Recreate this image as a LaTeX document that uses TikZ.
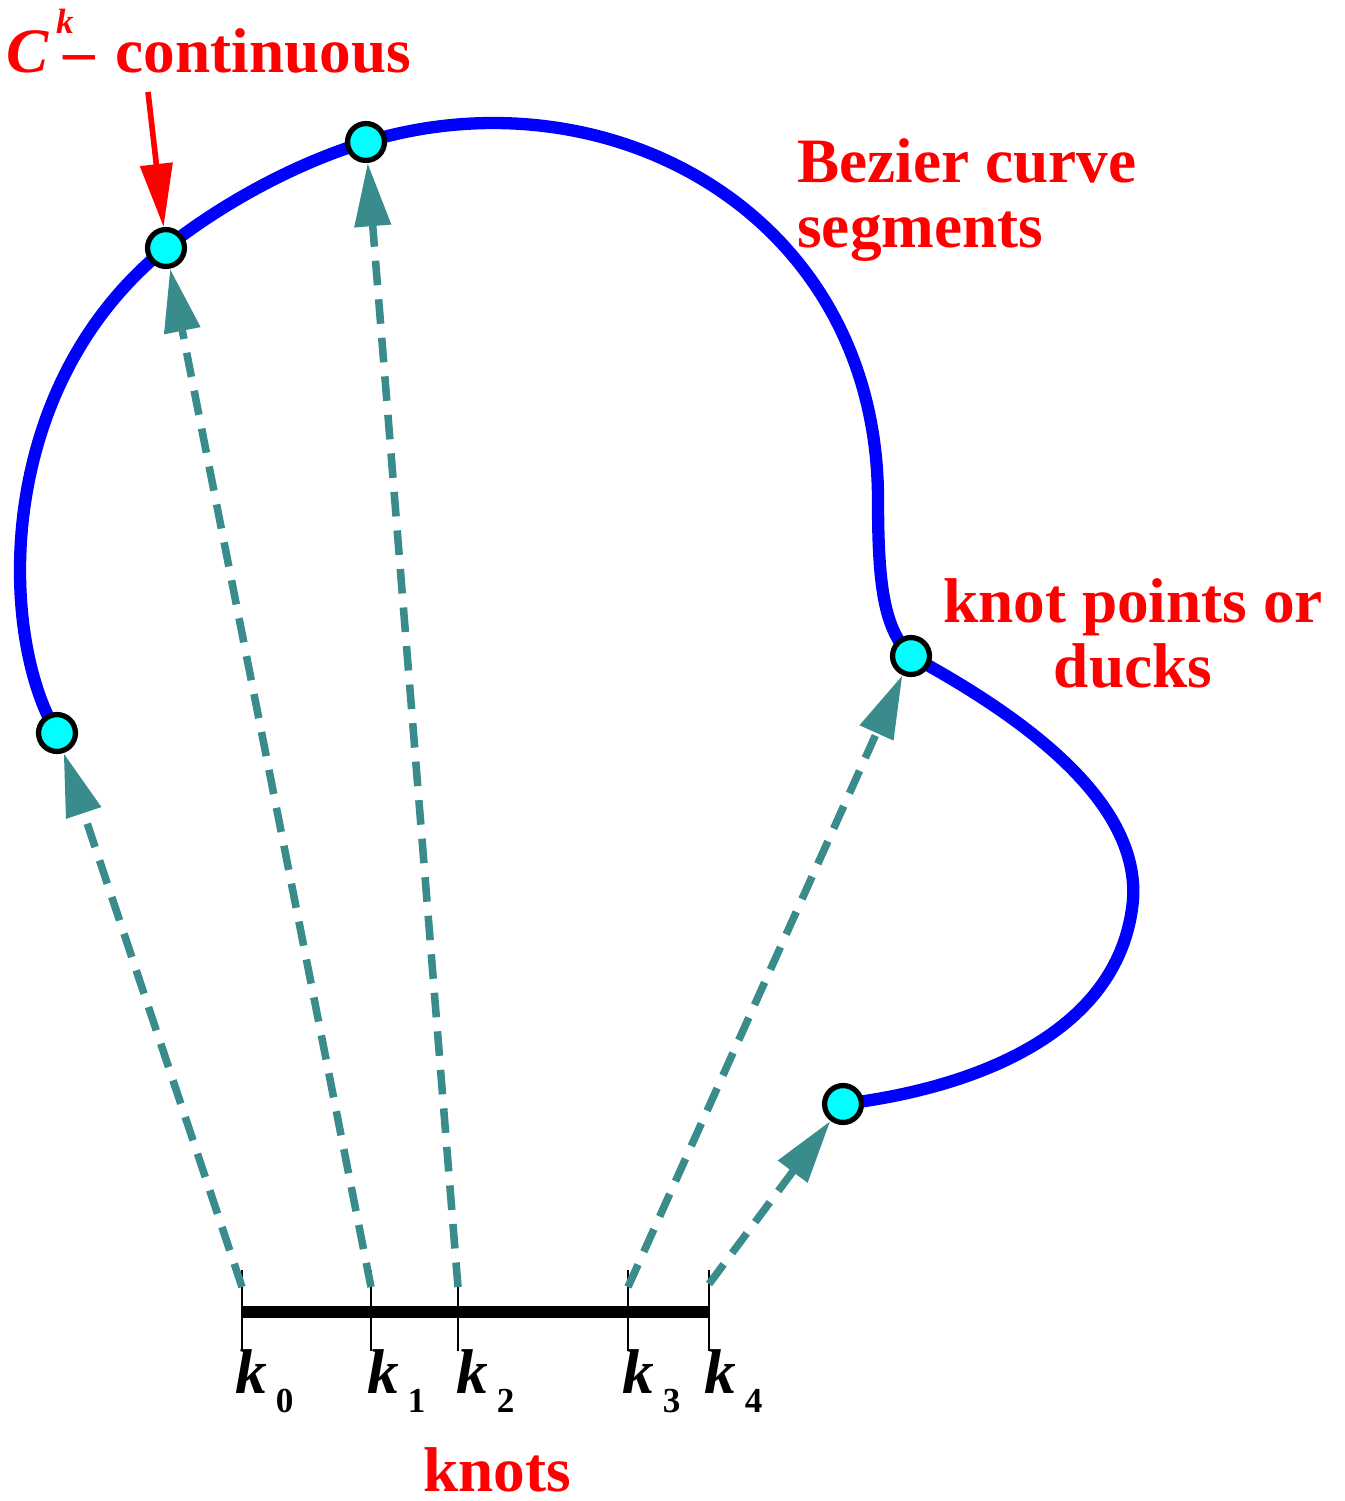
\documentclass[tikz,border=0pt]{standalone}
\usepackage{fontspec}
\setmainfont{Liberation Serif}
\usetikzlibrary{arrows.meta}
\usepackage{xcolor}
\definecolor{curveblue}{RGB}{0,0,255}
\definecolor{duckcyan}{RGB}{0,255,255}
\definecolor{mapteal}{RGB}{58,140,140}
\definecolor{notered}{RGB}{255,0,0}
\newcommand{\knotlab}[1]{\textit{k}\hspace{5pt}\raisebox{-11pt}{\fontsize{20}{20}\selectfont #1}}

\begin{document}
\begin{tikzpicture}[x=0.02cm, y=-0.02cm,
  duck/.style={circle, draw=black, line width=3pt, fill=duckcyan, minimum size=21pt, inner sep=0pt},
  seg/.style={draw=curveblue, line width=7pt},
  map/.style={-{Triangle[length=36pt, width=20pt]}, draw=mapteal, line width=4.3pt, dash pattern=on 14pt off 8pt},
  tick/.style={draw=black, line width=1.5pt},
  note/.style={font=\fontsize{36}{37}\selectfont\bfseries, text=notered, inner sep=0pt},
  klab/.style={font=\fontsize{36}{36}\selectfont\bfseries, inner sep=0pt, anchor=base west}
]
\useasboundingbox (0,0) rectangle (1345,1501);
% curve segments
\draw[seg] (57,733) .. controls (0,640) and (-10,390) .. (166,248)
  .. controls (216,208) and (290,165) .. (366,142)
  .. controls (610,68) and (878,215) .. (878,500)
  .. controls (878,590) and (885,630) .. (911,656)
  .. controls (1020,715) and (1140,800) .. (1133,900)
  .. controls (1120,1040) and (960,1090) .. (843,1104);
% knot vector
\coordinate (t0) at (242,1312);
\coordinate (t1) at (371,1312);
\coordinate (t2) at (458,1312);
\coordinate (t3) at (628,1312);
\coordinate (t4) at (709,1312);
\draw[black, line width=7pt] (t0) -- (t4);
\foreach \i in {0,...,4} {
  \draw[tick] ([yshift=-22]t\i) -- ([yshift=24]t\i);
}
\coordinate (s0) at (242,1287);
\coordinate (s1) at (371,1287);
\coordinate (s2) at (458,1287);
\coordinate (s3) at (628,1287);
\coordinate (s4) at (709,1284);
% ducks
\node[duck] (d0) at (57,733) {};
\node[duck] (d1) at (166,248) {};
\node[duck] (d2) at (366,142) {};
\node[duck] (d3) at (911,656) {};
\node[duck] (d4) at (843,1104) {};
\foreach \i in {0,...,4} {
  \draw[map] (s\i) -- (d\i);
}
% labels
\node[klab] (k0) at (235,1393) {\knotlab{0}};
\node[klab] (k1) at (367,1393) {\knotlab{1}};
\node[klab] (k2) at (456,1393) {\knotlab{2}};
\node[klab] (k3) at (622,1393) {\knotlab{3}};
\node[klab] (k4) at (704,1393) {\knotlab{4}};
\node[note] (knots) at (497,1470) {knots};
\node[note, anchor=north west, align=left] (bez) at (797,138) {Bezier curve\\segments};
\node[note, anchor=north, align=center] (kp) at (1133,578) {knot points or\\ducks};
\node[note, anchor=base west] (ck) at (6,72) {\textit{C}\hspace{4pt}\raisebox{22pt}{\fontsize{20}{20}\selectfont\textit{k}}\kern-6pt–\hspace{12pt}continuous};
\coordinate (ca) at (148,92);
\draw[-{Triangle[length=36pt, width=18pt]}, draw=notered, fill=notered, line width=3.2pt] (ca) -- (d1);
\end{tikzpicture}
\end{document}
